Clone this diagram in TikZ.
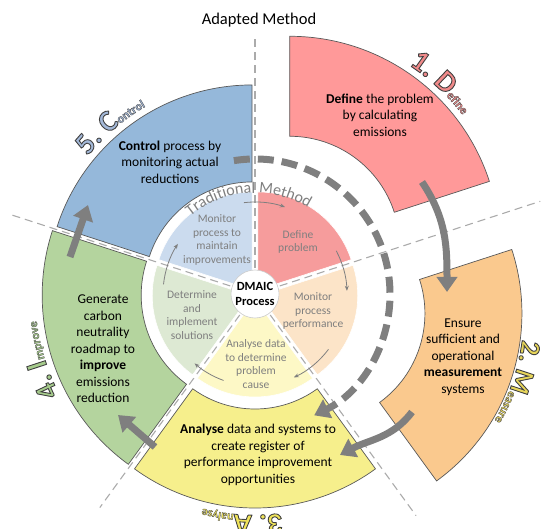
\documentclass[tikz,border=0pt]{standalone}
\usepackage{fontspec}
\setmainfont{Carlito}
\usetikzlibrary{arrows.meta, decorations.text}

\definecolor{defred}{HTML}{FF9999}
\definecolor{measorange}{HTML}{FAC98E}
\definecolor{analyellow}{HTML}{F6EF8C}
\definecolor{impgreen}{HTML}{B4D49E}
\definecolor{ctrlblue}{HTML}{95B8DA}
\definecolor{idefred}{HTML}{F69C9C}
\definecolor{imeasorange}{HTML}{FCE4C8}
\definecolor{ianalyellow}{HTML}{FDF8C6}
\definecolor{iimpgreen}{HTML}{DDE9D3}
\definecolor{ictrlblue}{HTML}{CBDBEE}
\definecolor{arrowgray}{HTML}{7F7F7F}
\definecolor{linegray}{HTML}{ABABAB}
\definecolor{edgegray}{HTML}{595959}
\definecolor{labred}{HTML}{F08A8A}
\definecolor{labgold}{HTML}{E8D65A}
\definecolor{labyellow}{HTML}{F0E45A}
\definecolor{labgreen}{HTML}{A6CC8C}
\definecolor{labblue}{HTML}{A3B8D8}

% word-art look: filled and outlined glyphs
\newcommand{\waoutline}{\special{pdf:literal direct 0.25 0.25 0.25 RG 0.9 w 2 Tr}}
\newcommand{\waoutlinesmall}{\special{pdf:literal direct 0.3 0.3 0.3 RG 0.35 w 2 Tr}}

% one piece of a ring: style, shift, start, end, inner r, outer r
\newcommand{\ringpart}[6]{%
  \pgfmathsetmacro{\bis}{(#3+#4)/2}
  \begin{scope}[shift={(C)}, shift={(\bis:#2)}]
    \filldraw[#1] (#3:#5) arc[start angle=#3, end angle=#4, radius=#5]
      -- (#4:#6) arc[start angle=#4, end angle=#3, radius=#6] -- cycle;
  \end{scope}}
% curved step label: bisector, shift, centre angle, radius, text
\newcommand{\ringlabel}[5]{%
  \begin{scope}[shift={(C)}, shift={(#1:#2)}]
    \path[decorate, decoration={text along path, text align=center, text={#5}}]
      (#3+60:#4) arc[start angle=#3+60, end angle=#3-60, radius=#4];
  \end{scope}}

\tikzset{
  segment/.style={draw=edgegray, line width=0.7pt},
  innerseg/.style={draw=white, line width=0.6pt},
  divider/.style={linegray, line width=1.1pt, dash pattern=on 8pt off 5pt},
  bigarrow/.style={arrowgray, line width=7pt, -{Triangle[width=20pt,length=15pt]}},
  dasharrow/.style={arrowgray, line width=7pt, dash pattern=on 16pt off 8pt, -{Triangle[width=20pt,length=15pt]}},
  smallarrow/.style={arrowgray, line width=0.8pt, -{Stealth[length=5pt,width=4pt]}},
  outertext/.style={align=center, font=\fontsize{13.5}{16.5}\selectfont, text=black},
  innertext/.style={align=center, font=\fontsize{11.5}{13.5}\selectfont, text=arrowgray},
}

\begin{document}
\begin{tikzpicture}[x=1pt, y=1pt]
\useasboundingbox (0,0) rectangle (546,528);
\coordinate (C) at (255,234);
\foreach \a/\l in {90/259, 18/300, -54/274, -126/264, 162/257}
  \draw[divider] (C) -- ++(\a:\l);

% adapted method (outer ring)
\ringpart{segment, fill=defred}{59}{18}{90}{110}{210}
\ringpart{segment, fill=measorange}{63}{-54}{18}{110}{207}
\ringpart{segment, fill=analyellow}{9}{-126}{-54}{106}{205}
\ringpart{segment, fill=impgreen}{4}{162}{234}{110}{209}
\ringpart{segment, fill=ctrlblue}{5}{90}{162}{108}{205}

% traditional method (inner pie)
\ringpart{innerseg, fill=idefred}{5}{18}{90}{1}{98}
\ringpart{innerseg, fill=imeasorange}{5}{-54}{18}{1}{98}
\ringpart{innerseg, fill=ianalyellow}{5}{-126}{-54}{1}{98}
\ringpart{innerseg, fill=iimpgreen}{5}{162}{234}{1}{98}
\ringpart{innerseg, fill=ictrlblue}{5}{90}{162}{1}{98}
\node[circle, fill=white, draw=black!20, line width=0.6pt, minimum size=48pt, inner sep=0pt,
  align=center, font=\fontsize{12.5}{15}\selectfont\bfseries] (dmaic) at (C) {DMAIC\\Process};

% arrows
\coordinate (a1s) at (422,346); \coordinate (a1e) at (447,236);
\coordinate (a2s) at (412,116); \coordinate (a2e) at (340,73);
\coordinate (a3s) at (155,81);  \coordinate (a3e) at (118,113);
\coordinate (a4s) at (70,271);  \coordinate (a4e) at (88,323);
\draw[bigarrow] (a1s) to[out=-56, in=90] (a1e);
\draw[bigarrow] (a2s) to[out=-127, in=28] (a2e);
\draw[bigarrow] (a3s) -- (a3e);
\draw[bigarrow] (a4s) -- (a4e);
\draw[dasharrow] ([shift={(99:135)}]C) arc[start angle=99, end angle=-64, radius=135];
\foreach \a/\b in {97/71, 28/2, -37/-65, -110/-131, 174/147}
  \draw[smallarrow] ([shift={(\a:92)}]C) arc[start angle=\a, end angle=\b, radius=92];

% texts
\node[font=\fontsize{16.5}{16.5}\selectfont] (adapted) at (259,508) {Adapted Method};
\path[decorate, decoration={text along path, text align=center,
  text={|\fontsize{16}{16}\selectfont\color{arrowgray}|Traditional Method}}]
  ([shift={(164:101)}]C) arc[start angle=164, end angle=24, radius=101];

\node[outertext] (tdef) at (380,413) {\textbf{Define} the problem\\by calculating\\emissions};
\node[outertext] (tmeas) at (463,171) {Ensure\\sufficient and\\operational\\\textbf{measurement}\\systems};
\node[outertext] (tanal) at (258,73) {\textbf{Analyse} data and systems to\\create register of\\performance improvement\\opportunities};
\node[outertext] (timp) at (103,179) {Generate\\carbon\\neutrality\\roadmap to\\\textbf{improve}\\emissions\\reduction};
\node[outertext] (tctrl) at (170,366) {\textbf{Control} process by\\monitoring actual\\reductions};

\node[innertext] (idef) at (298,286) {Define\\problem};
\node[innertext] (imeas) at (313,217) {Monitor\\process\\performance};
\node[innertext] (ianal) at (256,164) {Analyse data\\to determine\\problem\\cause};
\node[innertext] (iimp) at (192,213) {Determine\\and\\implement\\solutions};
\node[innertext] (ictrl) at (217,288) {Monitor\\process to\\maintain\\improvements};

% step labels round the ring
\ringlabel{54}{59}{47}{217}{|\fontsize{30}{30}\selectfont\bfseries\color{labred}\waoutline|1. D|\fontsize{12}{12}\selectfont\bfseries\color{labred}\waoutlinesmall|efine}
\ringlabel{-18}{63}{-19}{209}{|\fontsize{28}{28}\selectfont\bfseries\color{labgold}\waoutline|2. M|\fontsize{12}{12}\selectfont\bfseries\color{labgold}\waoutlinesmall|easure}
\ringlabel{-90}{9}{-93.5}{212}{|\fontsize{30}{30}\selectfont\bfseries\color{labyellow}\waoutline|3. A|\fontsize{12}{12}\selectfont\bfseries\color{labyellow}\waoutlinesmall|nalyse}
\ringlabel{198}{4}{197}{216}{|\fontsize{30}{30}\selectfont\bfseries\color{labgreen}\waoutline|4. I|\fontsize{12}{12}\selectfont\bfseries\color{labgreen}\waoutlinesmall|mprove}
\ringlabel{126}{5}{130.5}{212}{|\fontsize{30}{30}\selectfont\bfseries\color{labblue}\waoutline|5. C|\fontsize{12}{12}\selectfont\bfseries\color{labblue}\waoutlinesmall|ontrol}
\end{tikzpicture}
\end{document}
